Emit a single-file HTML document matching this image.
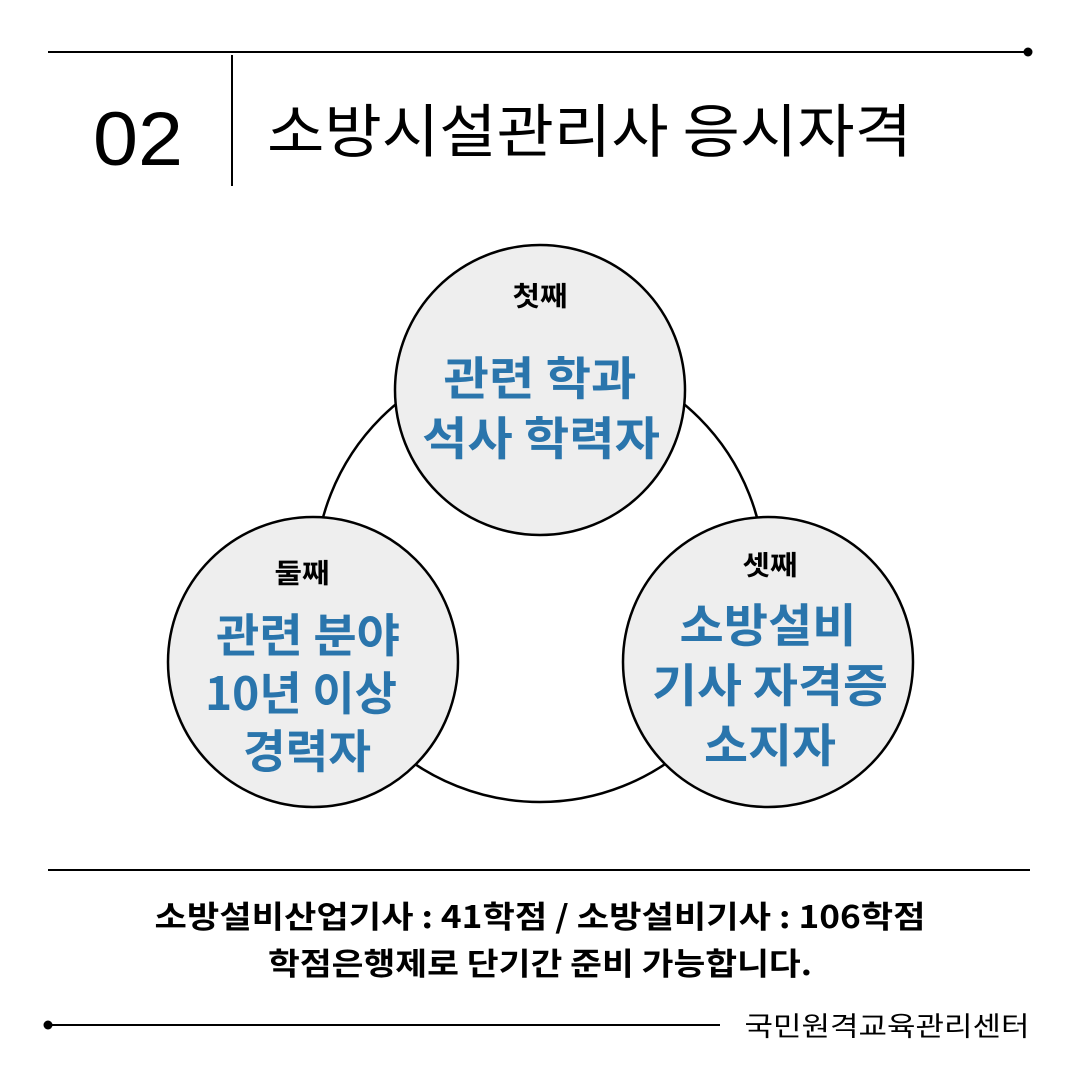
<!DOCTYPE html>
<html><head><meta charset="utf-8"><style>
body{margin:0;width:1080px;height:1080px;background:#fff;overflow:hidden;font-family:"Liberation Sans","Noto Sans CJK KR",sans-serif}
</style></head><body>
<svg width="1080" height="1080" xmlns="http://www.w3.org/2000/svg" style="position:absolute;left:0;top:0">
<line x1="48" y1="52" x2="1028" y2="52" stroke="#000" stroke-width="2"/>
<circle cx="1028" cy="52" r="4.5" fill="#000"/>
<line x1="232" y1="55" x2="232" y2="186" stroke="#000" stroke-width="2"/>
<text x="93" y="165" font-size="76" font-family="Liberation Sans, sans-serif" textLength="90" lengthAdjust="spacingAndGlyphs">02</text>
<text x="267" y="152" font-size="58" font-family="Noto Sans CJK KR, sans-serif" textLength="645" lengthAdjust="spacingAndGlyphs">소방시설관리사 응시자격</text>
<circle cx="540" cy="577" r="225" fill="none" stroke="#000" stroke-width="2.5"/>
<g stroke="#000" stroke-width="2.5" fill="#eeeeee">
<circle cx="540" cy="390" r="145"/>
<circle cx="313" cy="662" r="145"/>
<circle cx="768" cy="662" r="145"/>
</g>
<g font-family="Noto Sans CJK KR, sans-serif" text-anchor="middle" lengthAdjust="spacingAndGlyphs">
<text x="540" y="306" font-size="27" font-weight="bold" textLength="55" lengthAdjust="spacingAndGlyphs">첫째</text>
<text x="540" y="395" font-size="46" font-weight="bold" fill="#2a75ac" textLength="193" lengthAdjust="spacingAndGlyphs">관련 학과</text>
<text x="541" y="455" font-size="46" font-weight="bold" fill="#2a75ac" textLength="238" lengthAdjust="spacingAndGlyphs">석사 학력자</text>
<text x="302" y="583" font-size="27" font-weight="bold" textLength="55" lengthAdjust="spacingAndGlyphs">둘째</text>
<text x="308" y="652" font-size="46" font-weight="bold" fill="#2a75ac" textLength="184" lengthAdjust="spacingAndGlyphs">관련 분야</text>
<text x="301" y="710" font-size="46" font-weight="bold" fill="#2a75ac" textLength="192" lengthAdjust="spacingAndGlyphs">10년 이상</text>
<text x="307" y="768" font-size="46" font-weight="bold" fill="#2a75ac" textLength="128" lengthAdjust="spacingAndGlyphs">경력자</text>
<text x="770" y="575" font-size="27" font-weight="bold" textLength="55" lengthAdjust="spacingAndGlyphs">셋째</text>
<text x="768" y="642" font-size="46" font-weight="bold" fill="#2a75ac" textLength="177" lengthAdjust="spacingAndGlyphs">소방설비</text>
<text x="770" y="702" font-size="46" font-weight="bold" fill="#2a75ac" textLength="236" lengthAdjust="spacingAndGlyphs">기사 자격증</text>
<text x="770" y="762" font-size="46" font-weight="bold" fill="#2a75ac" textLength="132" lengthAdjust="spacingAndGlyphs">소지자</text>
<text x="540" y="928" font-size="31" font-weight="bold" textLength="771" lengthAdjust="spacingAndGlyphs">소방설비산업기사 : 41학점 / 소방설비기사 : 106학점</text>
<text x="540" y="975" font-size="31" font-weight="bold" textLength="544" lengthAdjust="spacingAndGlyphs">학점은행제로 단기간 준비 가능합니다.</text>
<text x="887" y="1036" font-size="27" textLength="285" lengthAdjust="spacingAndGlyphs">국민원격교육관리센터</text>
</g>
<line x1="48" y1="870" x2="1030" y2="870" stroke="#000" stroke-width="2"/>
<line x1="48" y1="1025" x2="720" y2="1025" stroke="#000" stroke-width="2"/>
<circle cx="48" cy="1025" r="4.5" fill="#000"/>
</svg>
</body></html>
